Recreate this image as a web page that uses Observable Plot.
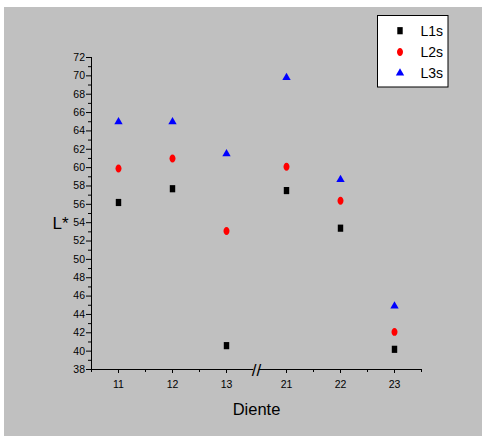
<!DOCTYPE html>
<html><head><meta charset="utf-8">
<script src="https://cdn.jsdelivr.net/npm/d3@7"></script>
<script src="https://cdn.jsdelivr.net/npm/@observablehq/plot@0.6"></script>
<style>
body{margin:0;background:#fff;font-family:"Liberation Sans",Arial,sans-serif;}
#wrap{position:relative;width:482px;height:436px;overflow:hidden;}
#chart{position:absolute;left:4px;top:7px;}
#legend{position:absolute;left:377px;top:15px;}
#chart svg, #legend svg{display:block;}
</style></head><body>
<div id="wrap"><div id="chart"></div><div id="legend"></div></div>
<script>
// ---- data ----
const teeth = ["11", "12", "13", "21", "22", "23"];
const L1s = [56.2, 57.7, 40.6, 57.5, 53.4, 40.2];
const L2s = [59.9, 61.0, 53.1, 60.1, 56.4, 42.1];
const L3s = [65.0, 65.0, 61.5, 69.8, 58.7, 44.9];
const seriesNames = ["L1s", "L2s", "L3s"];
const yMajorTicks = d3.range(38, 73, 2);
const yMinorTicks = d3.range(39, 72, 2);
const yLabel = "L*";
const xLabel = "Diente";

// ---- styles ----
const seriesColors = ["#000000", "#ff0000", "#0000ff"];
const font = "Liberation Sans, Arial, sans-serif";

// axis break between 13 and 21 adds a little room
const breakExtra = 6 / 54;
const pos = i => i + (i >= 3 ? breakExtra : 0);
const xDomain = [-0.5, teeth.length - 0.5 + breakExtra];
const breakAt = 2.5 + breakExtra / 2;
const gap = 0.05;
const xMajor = teeth.map((t, i) => pos(i));
const xMinor = [xDomain[0], 0.5, 1.5, 3.5 + breakExtra, 4.5 + breakExtra, xDomain[1]];

const table = (vals, name) => teeth.map((t, i) => ({tooth: t, pos: pos(i), series: name, value: vals[i]}));
const rows = [table(L1s, "L1s"), table(L2s, "L2s"), table(L3s, "L3s")];

// custom symbols (slightly tall square & ellipse as in the original)
const rectSym = {draw(ctx, size) {
  const r = Math.sqrt(size / Math.PI), w = r * 1.55, h = r * 2.05;
  ctx.moveTo(-w / 2, -h / 2); ctx.lineTo(w / 2, -h / 2); ctx.lineTo(w / 2, h / 2); ctx.lineTo(-w / 2, h / 2); ctx.closePath();
}};
const ellSym = {draw(ctx, size) {
  const r = Math.sqrt(size / Math.PI), rx = r * 0.86, ry = r * 1.14, k = 0.5523;
  ctx.moveTo(rx, 0);
  ctx.bezierCurveTo(rx, ry * k, rx * k, ry, 0, ry);
  ctx.bezierCurveTo(-rx * k, ry, -rx, ry * k, -rx, 0);
  ctx.bezierCurveTo(-rx, -ry * k, -rx * k, -ry, 0, -ry);
  ctx.bezierCurveTo(rx * k, -ry, rx, -ry * k, rx, 0);
  ctx.closePath();
}};
const symbols = [rectSym, ellSym, d3.symbolTriangle];
const radii = [3.5, 3.5, 3.1];

const segs = [{x1: xDomain[0], x2: breakAt - gap}, {x1: breakAt + gap, x2: xDomain[1]}];

const plot = Plot.plot({
  width: 478, height: 429,
  marginLeft: 87, marginRight: 61, marginTop: 50, marginBottom: 67,
  style: {background: "#c0c0c0", fontFamily: font, fontSize: "10.5px", color: "#000"},
  x: {domain: xDomain, axis: null},
  y: {domain: [yMajorTicks[0], yMajorTicks[yMajorTicks.length - 1]], axis: null},
  marks: [
    Plot.ruleX([xDomain[0]], {stroke: "#000"}),
    Plot.ruleY(segs, {y: () => yMajorTicks[0], x1: "x1", x2: "x2", stroke: "#000"}),
    Plot.axisY(yMajorTicks, {tickSize: 5, tickPadding: 1.5, label: null, stroke: "#000", fill: "#000", fontSize: 10.5}),
    Plot.axisY(yMinorTicks, {tickSize: 3, fill: "none", label: null, stroke: "#000"}),
    Plot.axisX(xMajor, {tickSize: 4, tickPadding: 7, label: null, stroke: "#000", fill: "#000", fontSize: 10.5,
      tickFormat: d => teeth[xMajor.indexOf(d)]}),
    Plot.axisX(xMinor, {tickSize: 3, fill: "none", label: null, stroke: "#000"}),
    Plot.text(["//"], {x: () => breakAt, frameAnchor: "bottom", lineAnchor: "middle", dy: 1, fontSize: 17, fill: "#000"}),
    ...rows.map((r, k) => Plot.dot(r, {x: "pos", y: "value", symbol: symbols[k], r: radii[k], fill: seriesColors[k], stroke: "none"})),
    Plot.text([yLabel], {frameAnchor: "left", dx: -39, dy: 10, textAnchor: "start", lineAnchor: "middle", fontSize: 17, fill: "#000"}),
    Plot.text([xLabel], {frameAnchor: "bottom", dy: 40.5, lineAnchor: "middle", fontSize: 16.5, fill: "#000"})
  ]
});
document.getElementById("chart").appendChild(plot);

// ---- legend ----
const leg = d3.select("#legend").append("svg").attr("width", 72).attr("height", 73)
  .style("font-family", font);
leg.append("rect").attr("x", 0.5).attr("y", 0.5).attr("width", 70.5).attr("height", 71.5)
  .attr("fill", "#fff").attr("stroke", "#000");
seriesNames.forEach((name, k) => {
  const cy = 15.7 + k * 21.2;
  leg.append("path").attr("transform", `translate(23,${cy})`)
    .attr("d", d3.symbol(symbols[k], Math.PI * radii[k] * radii[k])())
    .attr("fill", seriesColors[k]);
  leg.append("text").attr("x", 43.5).attr("y", cy + 5).attr("font-size", 14).attr("fill", "#000").text(name);
});
</script>
</body></html>
